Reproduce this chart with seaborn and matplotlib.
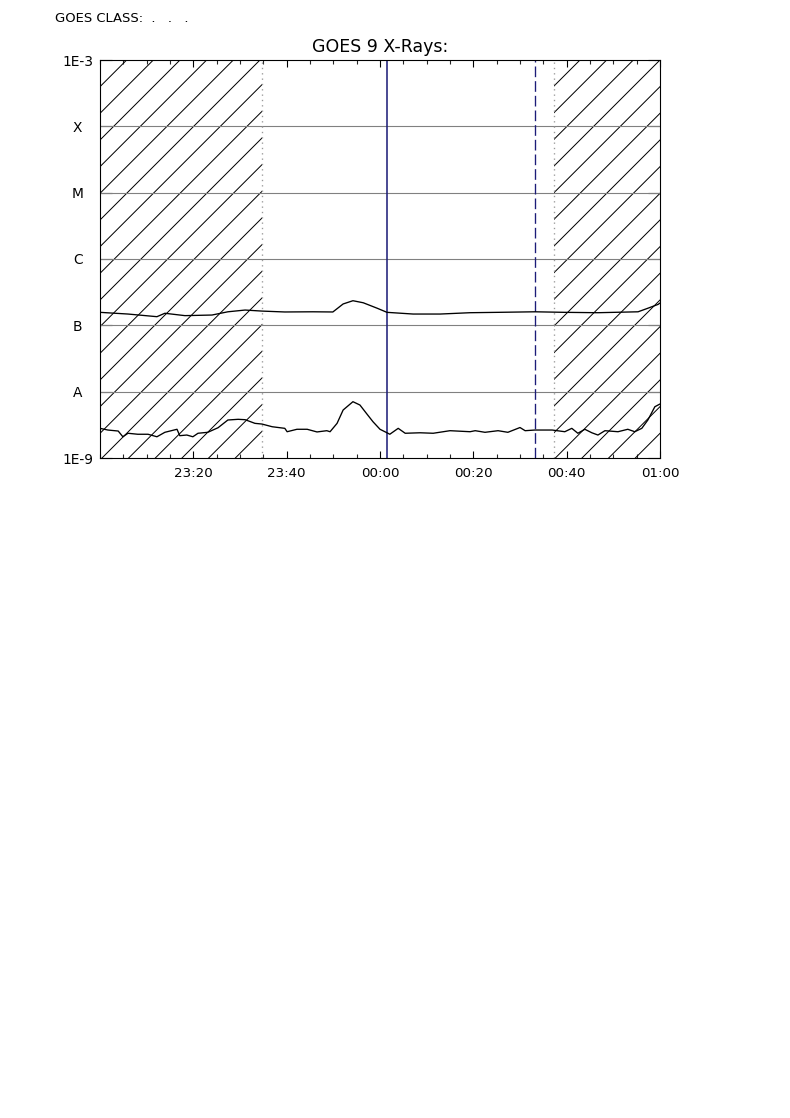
import matplotlib
matplotlib.use("Agg")
import matplotlib.pyplot as plt
import matplotlib.ticker as mticker
import numpy as np
import pandas as pd
import seaborn as sns

# minutes after 23:00 and flux (W/m^2)
t_long = [0, 6.0, 12.2, 13.9, 18.2, 24.0, 27.4, 31.1, 34.7, 39.6, 45.6, 49.9,
          52.1, 54.2, 56.4, 59.4, 61.5, 67.1, 72.9, 79.3, 85.3, 93.2, 99.6,
          106.7, 115.3, 117.4, 119.6, 120]
f_long = [1.57e-7, 1.48e-7, 1.35e-7, 1.52e-7, 1.40e-7, 1.43e-7, 1.60e-7, 1.70e-7,
          1.64e-7, 1.59e-7, 1.60e-7, 1.59e-7, 2.10e-7, 2.35e-7, 2.19e-7, 1.81e-7,
          1.57e-7, 1.48e-7, 1.48e-7, 1.55e-7, 1.57e-7, 1.60e-7, 1.57e-7, 1.55e-7,
          1.60e-7, 1.81e-7, 2.07e-7, 2.17e-7]

t_short = [0, 1.7, 3.9, 4.9, 6.0, 8.1, 10.3, 12.2, 13.9, 16.5, 17.1, 18.6, 19.9,
           21.0, 23.1, 25.3, 27.4, 29.6, 31.1, 33.2, 34.7, 36.9, 39.6, 40.1, 42.2,
           44.4, 46.5, 48.6, 49.3, 50.8, 52.1, 54.2, 55.7, 57.2, 58.5, 60.0, 61.5,
           62.1, 63.9, 65.4, 68.6, 71.4, 75.0, 79.3, 80.4, 82.5, 85.3, 87.4, 90.0,
           91.1, 93.2, 96.9, 99.6, 101.1, 102.4, 103.9, 105.4, 106.7, 108.2, 111.0,
           113.1, 114.6, 116.1, 117.4, 118.9, 120]
f_short = [2.80e-9, 2.64e-9, 2.55e-9, 2.09e-9, 2.36e-9, 2.28e-9, 2.28e-9, 2.09e-9,
           2.44e-9, 2.71e-9, 2.17e-9, 2.22e-9, 2.09e-9, 2.36e-9, 2.44e-9, 2.86e-9,
           3.74e-9, 3.83e-9, 3.78e-9, 3.33e-9, 3.25e-9, 2.96e-9, 2.80e-9, 2.49e-9,
           2.71e-9, 2.71e-9, 2.47e-9, 2.58e-9, 2.49e-9, 3.33e-9, 5.29e-9, 7.06e-9,
           6.29e-9, 4.60e-9, 3.52e-9, 2.71e-9, 2.40e-9, 2.28e-9, 2.80e-9, 2.36e-9,
           2.40e-9, 2.36e-9, 2.58e-9, 2.49e-9, 2.58e-9, 2.44e-9, 2.58e-9, 2.44e-9,
           2.88e-9, 2.58e-9, 2.64e-9, 2.64e-9, 2.49e-9, 2.80e-9, 2.36e-9, 2.71e-9,
           2.40e-9, 2.22e-9, 2.58e-9, 2.49e-9, 2.71e-9, 2.49e-9, 2.80e-9, 3.74e-9,
           5.93e-9, 6.52e-9]

# hatched (no data) intervals and marker lines, minutes after 23:00
hatch_spans = [(0, 34.7), (97.3, 120)]
dotted_lines = [34.7, 97.3]
solid_line = 61.5
dashed_line = 93.2

tick_min = [20, 40, 60, 80, 100, 120]
tick_lab = ["23:20", "23:40", "00:00", "00:20", "00:40", "01:00"]
class_flux = [1e-9, 1e-8, 1e-7, 1e-6, 1e-5, 1e-4, 1e-3]
class_lab = ["1E-9", "A", "B", "C", "M", "X", "1E-3"]

sns.set_style("white")
plt.rcParams["font.family"] = ["DejaVu Sans"]
plt.rcParams["text.color"] = "black"
plt.rcParams["hatch.linewidth"] = 0.45
plt.rcParams["hatch.color"] = "black"

DPI = 160
fig = plt.figure(figsize=(790 / DPI, 1118 / DPI), dpi=DPI)
ax = fig.add_axes([100 / 790, 1 - 458 / 1118, 560 / 790, 398 / 1118])

for a, b in hatch_spans:
    ax.axvspan(a, b, facecolor="none", edgecolor="black", hatch="//", linewidth=0, zorder=1)

for c in class_flux[1:-1]:
    ax.axhline(c, color="#808080", lw=0.5, zorder=2)

for v in dotted_lines:
    ax.axvline(v, color="#9a9a9a", lw=0.6, linestyle=(0, (1, 3)), zorder=2)
ax.axvline(solid_line, color="#1c1c78", lw=0.7, zorder=3)
ax.axvline(dashed_line, color="#1c1c78", lw=0.6, linestyle=(0, (8, 3)), zorder=3)

df_long = pd.DataFrame({"t": t_long, "flux": f_long})
df_short = pd.DataFrame({"t": t_short, "flux": f_short})
sns.lineplot(data=df_long, x="t", y="flux", color="black", lw=0.6, ax=ax, zorder=4)
sns.lineplot(data=df_short, x="t", y="flux", color="black", lw=0.6, ax=ax, zorder=4)

ax.set_yscale("log")
ax.set_xlim(0, 120)
ax.set_ylim(1e-9, 1e-3)
ax.set_xlabel("")
ax.set_ylabel("")

ax.xaxis.set_major_locator(mticker.FixedLocator(tick_min))
ax.xaxis.set_major_formatter(mticker.FixedFormatter(tick_lab))
ax.xaxis.set_minor_locator(mticker.MultipleLocator(5))
ax.yaxis.set_major_locator(mticker.FixedLocator(class_flux))
ax.yaxis.set_major_formatter(mticker.FixedFormatter(class_lab))
ax.yaxis.set_minor_locator(mticker.NullLocator())

ax.tick_params(axis="x", which="major", direction="in", length=3, width=0.5,
               top=True, bottom=True, labelsize=6, pad=4, colors="black")
ax.tick_params(axis="x", which="minor", direction="in", length=1.6, width=0.5,
               top=True, bottom=True)
ax.tick_params(axis="y", which="major", direction="in", length=5.5, width=0.5,
               left=True, right=True, labelsize=6.2, pad=10, colors="black")
for lab in ax.get_yticklabels():
    lab.set_horizontalalignment("center")

for s in ax.spines.values():
    s.set_color("black")
    s.set_linewidth(0.5)
    s.set_zorder(5)

fig.text(380 / 790, 1 - 47 / 1118, "GOES 9 X-Rays:", ha="center", va="center",
         fontsize=7.8, color="black")
fig.text(55 / 790, 1 - 18 / 1118, "GOES CLASS:  .   .   .", ha="left", va="center",
         fontsize=5.9, color="black")

fig.savefig("out.png", dpi=DPI, facecolor="white")
plt.close(fig)
